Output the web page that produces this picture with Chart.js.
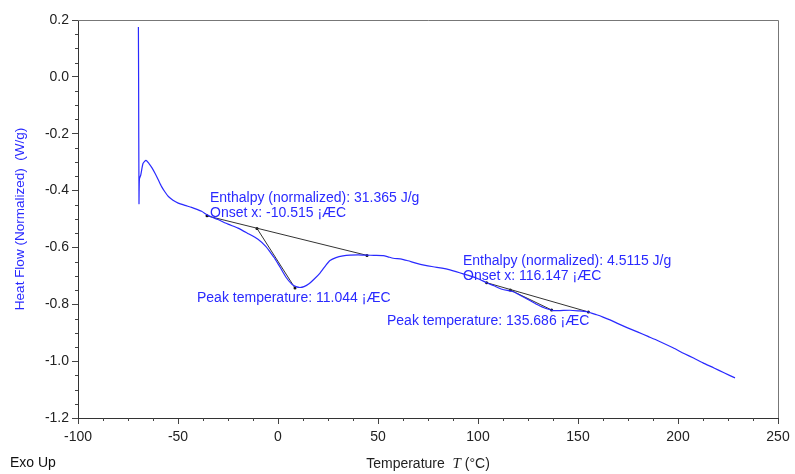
<!DOCTYPE html>
<html>
<head>
<meta charset="utf-8">
<script src="https://cdn.jsdelivr.net/npm/chart.js@4.4.1/dist/chart.umd.min.js"></script>
<style>
  html, body { margin: 0; padding: 0; background: #fff; }
  #c { display: block; }
</style>
</head>
<body>
<canvas id="c" width="795" height="474"></canvas>
<script>
// DSC curve
var tempC = [-69.8, -69.7, -69.5, -69.3, -68.6, -67.5, -66.0, -64.5, -63.0, -61.5, -60.0, -58.2, -56.5, -54.8, -52.5,
  -49.9, -46.5, -43.2, -40.5, -38.2, -35.5, -33.2, -30, -25, -20, -15.5, -10, -6, -4, -1.5, 1, 4, 7, 9, 11, 13, 15.5,
  18, 21, 24, 26, 29, 32.5, 36, 40, 44.4, 48, 52.6, 55, 57.6, 61.8, 65, 69.4, 73, 77.6, 82, 86, 89, 92.6, 96, 100,
  104.3, 108, 112, 117.6, 121, 125, 129.5, 131, 134, 137.6, 141, 146, 150, 154.3, 159.3, 162.5, 166, 170, 174.5, 180,
  185, 190, 197.5, 203, 208, 212.5, 218, 223, 228.5];
var heatFlow = [0.175, 0.0, -0.445, -0.36, -0.345, -0.305, -0.294, -0.305, -0.32, -0.339, -0.36, -0.386, -0.405, -0.421, -0.434,
  -0.444, -0.452, -0.459, -0.466, -0.473, -0.485, -0.493, -0.502, -0.518, -0.532, -0.549, -0.571, -0.597, -0.616, -0.640, -0.669, -0.705, -0.730, -0.738, -0.741, -0.738, -0.728,
  -0.712, -0.690, -0.662, -0.646, -0.636, -0.630, -0.627, -0.626, -0.627, -0.628, -0.629, -0.633, -0.638, -0.641, -0.647, -0.656, -0.662, -0.668, -0.673, -0.679, -0.685, -0.693, -0.700, -0.710,
  -0.724, -0.735, -0.747, -0.756, -0.768, -0.783, -0.801, -0.806, -0.815, -0.822, -0.822, -0.821, -0.823, -0.826, -0.837, -0.845, -0.855, -0.868, -0.882, -0.898,
  -0.913, -0.928, -0.953, -0.973, -0.990, -1.006, -1.024, -1.041, -1.059];

// baseline + onset tangent for the two events
var base1X = [-35.5, 44.5];
var base1Y = [-0.489, -0.628];
var tan1X = [-10.515, 8.5];
var tan1Y = [-0.533, -0.743];
var base2X = [104.3, 155.2];
var base2Y = [-0.724, -0.827];
var tan2X = [116.147, 136.8];
var tan2Y = [-0.750, -0.820];

// annotation texts and where they sit (data units, left / middle)
var noteText = ['Enthalpy (normalized): 31.365 J/g', 'Onset x: -10.515 \u00a1\u00c6C', 'Peak temperature: 11.044 \u00a1\u00c6C',
  'Enthalpy (normalized): 4.5115 J/g', 'Onset x: 116.147 \u00a1\u00c6C', 'Peak temperature: 135.686 \u00a1\u00c6C'];
var noteX = [-34, -34, -40.5, 92.5, 92.5, 54.5];
var noteY = [-0.426, -0.479, -0.778, -0.648, -0.700, -0.859];

var xTicks = [-100, -50, 0, 50, 100, 150, 200, 250];
var yTicks = [-1.2, -1.0, -0.8, -0.6, -0.4, -0.2, 0.0, 0.2];

function pts(xs, ys) {
  return xs.map(function(x, i) { return { x: x, y: ys[i] }; });
}

var FONT = "'Liberation Sans', Arial, sans-serif";
Chart.defaults.font.family = FONT;
Chart.defaults.font.size = 14;
Chart.defaults.color = '#222';

var blue = '#2a2aff';
var tangentStyle = {
  showLine: true, borderColor: '#333', borderWidth: 1, tension: 0,
  pointRadius: 1.5, pointBackgroundColor: '#111', pointBorderWidth: 0
};

var extras = {
  id: 'extras',
  afterDraw: function(chart) {
    var ctx = chart.ctx, a = chart.chartArea;
    var xs = chart.scales.x, ys = chart.scales.y;
    ctx.save();
    // frame on top and right
    ctx.strokeStyle = '#777';
    ctx.lineWidth = 1;
    ctx.beginPath();
    ctx.moveTo(a.left, a.top + 0.5);
    ctx.lineTo(a.right + 0.5, a.top + 0.5);
    ctx.lineTo(a.right + 0.5, a.bottom);
    ctx.stroke();

    // minor ticks
    ctx.strokeStyle = '#444';
    ctx.beginPath();
    for (var v = xTicks[0]; v <= xTicks[xTicks.length - 1]; v += 12.5) {
      if (v % 50 === 0) continue;
      var px = Math.round(xs.getPixelForValue(v)) + 0.5;
      ctx.moveTo(px, a.bottom);
      ctx.lineTo(px, a.bottom + 3);
    }
    for (var k = 0; k <= 28; k++) {
      if (k % 4 === 0) continue;
      var py = Math.round(ys.getPixelForValue(-1.2 + k * 0.05)) + 0.5;
      ctx.moveTo(a.left - 3, py);
      ctx.lineTo(a.left, py);
    }
    ctx.stroke();

    // annotations
    ctx.fillStyle = blue;
    ctx.font = '14px ' + FONT;
    ctx.textBaseline = 'middle';
    ctx.textAlign = 'left';
    noteText.forEach(function(t, i) {
      ctx.fillText(t, xs.getPixelForValue(noteX[i]), ys.getPixelForValue(noteY[i]));
    });

    // x title with italic T
    var y = 464;
    var p1 = 'Temperature  ', p2 = 'T', p3 = ' (\u00b0C)';
    ctx.fillStyle = '#222';
    ctx.font = '14px ' + FONT;
    var w1 = ctx.measureText(p1).width, w3 = ctx.measureText(p3).width;
    ctx.font = 'italic 15px "Liberation Serif", "Times New Roman", serif';
    var w2 = ctx.measureText(p2).width;
    var cx = (a.left + a.right) / 2;
    var x0 = cx - (w1 + w2 + w3) / 2;
    ctx.font = '14px ' + FONT;
    ctx.fillText(p1, x0, y);
    ctx.font = 'italic 15px "Liberation Serif", "Times New Roman", serif';
    ctx.fillText(p2, x0 + w1, y);
    ctx.font = '14px ' + FONT;
    ctx.fillText(p3, x0 + w1 + w2, y);

    ctx.fillStyle = '#111';
    ctx.fillText('Exo Up', 10, y - 1);
    ctx.restore();
  }
};

new Chart(document.getElementById('c'), {
  type: 'scatter',
  data: {
    datasets: [
      { data: pts(tempC, heatFlow), showLine: true, borderColor: blue, borderWidth: 1.2,
        pointRadius: 0, tension: 0.2 },
      Object.assign({ data: pts(base1X, base1Y) }, tangentStyle),
      Object.assign({ data: pts(tan1X, tan1Y) }, tangentStyle),
      Object.assign({ data: pts(base2X, base2Y) }, tangentStyle),
      Object.assign({ data: pts(tan2X, tan2Y) }, tangentStyle)
    ]
  },
  options: {
    responsive: false,
    animation: false,
    devicePixelRatio: 1,
    layout: { padding: { top: 20, right: 17, left: 0, bottom: 0 } },
    plugins: { legend: { display: false }, tooltip: { enabled: false } },
    scales: {
      x: {
        type: 'linear', min: xTicks[0], max: xTicks[xTicks.length - 1],
        afterFit: function(s) { s.height = 56; },
        afterBuildTicks: function(s) { s.ticks = xTicks.map(function(v) { return { value: v }; }); },
        ticks: { padding: 5, color: '#222', callback: function(v) { return String(v); } },
        grid: { drawOnChartArea: false, tickLength: 6, color: '#444' },
        border: { display: true, color: '#333' }
      },
      y: {
        type: 'linear', min: yTicks[0], max: yTicks[yTicks.length - 1],
        afterFit: function(s) { s.width = 78; },
        afterBuildTicks: function(s) { s.ticks = yTicks.map(function(v) { return { value: v }; }); },
        ticks: { padding: 3, color: '#222', callback: function(v) { return Math.abs(v) < 1e-9 ? '0.0' : v.toFixed(1); } },
        grid: { drawOnChartArea: false, tickLength: 6, color: '#444' },
        border: { display: true, color: '#333' },
        title: { display: true, text: 'Heat Flow (Normalized)  (W/g)', color: blue,
          font: { size: 13.5 }, padding: { top: 12, bottom: 4 } }
      }
    }
  },
  plugins: [extras]
});
</script>
</body>
</html>
